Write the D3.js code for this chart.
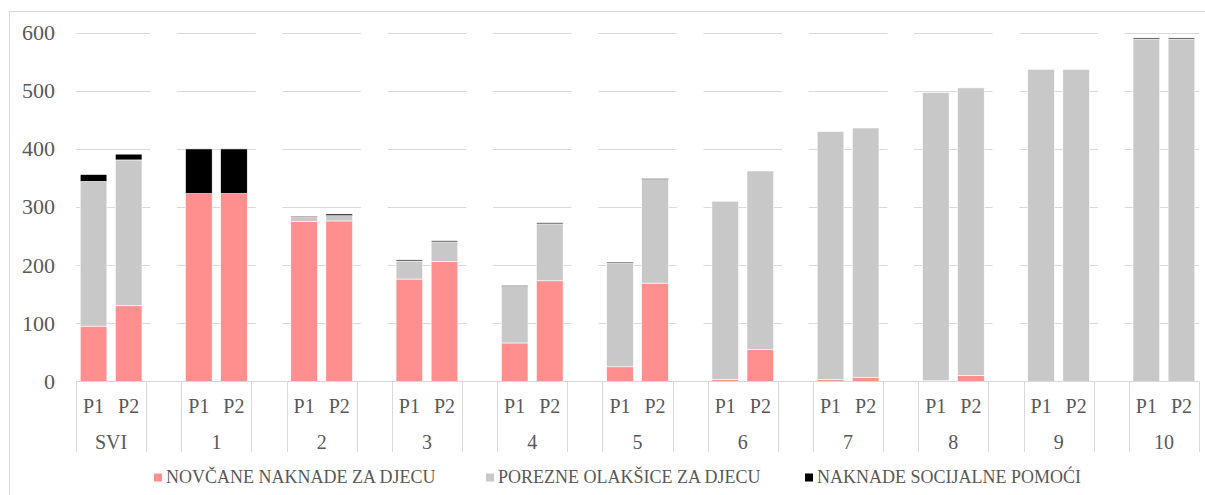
<!DOCTYPE html>
<html>
<head>
<meta charset="utf-8">
<script src="https://cdn.jsdelivr.net/npm/d3@7"></script>
<style>
  html, body { margin: 0; padding: 0; background: #fff; }
  svg text { font-family: "Liberation Serif", "Times New Roman", serif !important; }
</style>
</head>
<body>
<svg id="chart" width="1205" height="495" font-family="Liberation Serif"></svg>
<script>
// ---- Data ----
const groups = ["SVI", "1", "2", "3", "4", "5", "6", "7", "8", "9", "10"];
const subLabels = ["P1", "P2"];
const seriesNames = ["NOVČANE NAKNADE ZA DJECU", "POREZNE OLAKŠICE ZA DJECU", "NAKNADE SOCIJALNE POMOĆI"];
// values per group: [P1, P2]
const novcane = [[95, 130], [323, 323], [275, 276], [176, 206], [66, 173], [25, 169], [3, 55], [3, 7], [1, 10], [0, 0], [0, 0]];
const porezne = [[249, 251], [0, 0], [7, 9], [31, 34], [97, 98], [178, 178], [307, 307], [427, 429], [496, 495], [537, 537], [589, 589]];
const socijalne = [[12, 10], [77, 77], [2, 3], [2, 2], [2, 2], [2, 2], [0, 0], [0, 0], [0, 0], [0, 0], [2, 2]];
const yTicks = [0, 100, 200, 300, 400, 500, 600];
const colors = ["#FF8F8F", "#C8C8C8", "#000000"];

// ---- Layout ----
const svg = d3.select("#chart");
const plotLeft = 76, plotRight = 1199, plotTop = 32.7, plotBottom = 381.3;

function label(sel, size) {
  return sel.attr("font-family", "Liberation Serif").attr("font-size", size).attr("fill", "#595959");
}

// category slots: group P1, group P2, blank (between groups)
const slots = [];
groups.forEach((g, gi) => {
  subLabels.forEach((s, si) => slots.push({key: g + "-" + s, group: gi, sub: si, blank: false}));
  if (gi < groups.length - 1) slots.push({key: "blank-" + gi, group: gi, blank: true});
});

const x = d3.scaleBand().domain(slots.map(d => d.key)).range([plotLeft, plotRight]).paddingInner(0.24).paddingOuter(0.12);
const step = x.step();
const slotStart = k => x(k) - x.paddingInner() * step / 2;
const y = d3.scaleLinear().domain([0, 600]).range([plotBottom, plotTop]);

// chart border
svg.append("rect").attr("x", 9.5).attr("y", 11.5).attr("width", 1210).attr("height", 500)
  .attr("fill", "none").attr("stroke", "#d9d9d9").attr("stroke-width", 1);

// gridlines
svg.append("g").selectAll("line").data(yTicks.filter(t => t > 0)).join("line")
  .attr("x1", plotLeft).attr("x2", plotRight)
  .attr("y1", d => Math.round(y(d)) + 0.5).attr("y2", d => Math.round(y(d)) + 0.5)
  .attr("stroke", "#d9d9d9").attr("stroke-width", 1);

// white masks in blank slots (gaps in gridlines)
svg.append("g").selectAll("rect").data(slots.filter(d => d.blank)).join("rect")
  .attr("x", d => x(d.key)).attr("width", x.bandwidth())
  .attr("y", y(600) - 2).attr("height", y(0) - y(600) + 1)
  .attr("fill", "#fff");

// y labels
label(svg.append("g").selectAll("text").data(yTicks).join("text"), 22)
  .attr("x", 55).attr("y", d => y(d)).attr("dy", "0.34em")
  .attr("text-anchor", "end")
  .text(d => d);

// stacked bars
const barData = slots.filter(d => !d.blank).map(d => ({
  key: d.key,
  vals: [novcane[d.group][d.sub], porezne[d.group][d.sub], socijalne[d.group][d.sub]]
}));
const stack = d3.stack().keys([0, 1, 2]).value((d, k) => d.vals[k]);
const stacked = stack(barData);
svg.append("g").selectAll("g").data(stacked).join("g")
  .attr("fill", (d, i) => colors[i])
  .selectAll("rect").data(d => d.filter(p => p[1] - p[0] > 0)).join("rect")
  .attr("x", p => x(p.data.key)).attr("width", x.bandwidth())
  .attr("y", p => y(p[1])).attr("height", p => y(p[0]) - y(p[1]))
  .attr("stroke", "#fff").attr("stroke-width", 0.6);

// x baseline
svg.append("line").attr("x1", plotLeft).attr("x2", plotRight)
  .attr("y1", Math.round(y(0)) + 0.5).attr("y2", Math.round(y(0)) + 0.5)
  .attr("stroke", "#d9d9d9").attr("stroke-width", 1);

// category dividers at group boundaries (real and blank groups)
const boundaries = [];
slots.forEach((d, i) => {
  if (i === 0 || d.blank || slots[i - 1].blank) boundaries.push(slotStart(d.key));
});
boundaries.push(plotRight);
svg.append("g").selectAll("line").data(boundaries).join("line")
  .attr("x1", d => Math.round(d) + 0.5).attr("x2", d => Math.round(d) + 0.5)
  .attr("y1", y(0)).attr("y2", 452)
  .attr("stroke", "#d9d9d9").attr("stroke-width", 1);

// P1/P2 labels
label(svg.append("g").selectAll("text").data(slots.filter(d => !d.blank)).join("text"), 20)
  .attr("x", d => x(d.key) + x.bandwidth() / 2).attr("y", 413)
  .attr("text-anchor", "middle")
  .text(d => subLabels[d.sub]);

// group labels
label(svg.append("g").selectAll("text").data(groups).join("text"), 20)
  .attr("x", g => (x(g + "-P1") + x(g + "-P2") + x.bandwidth()) / 2).attr("y", 449)
  .attr("text-anchor", "middle")
  .text(g => g);

// legend
const legendX = [154, 486, 805];
const lg = svg.append("g").selectAll("g").data(seriesNames).join("g")
  .attr("transform", (d, i) => `translate(${legendX[i]},0)`);
lg.append("rect").attr("x", 0).attr("y", 473.5).attr("width", 8).attr("height", 8)
  .attr("fill", (d, i) => colors[i]);
label(lg.append("text"), 18).attr("x", 12).attr("y", 482.5)
  .text(d => d);
</script>
</body>
</html>
